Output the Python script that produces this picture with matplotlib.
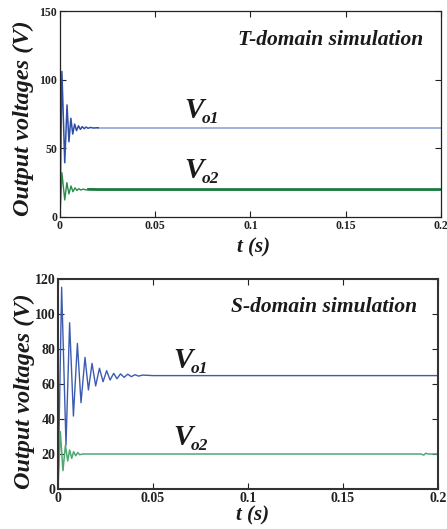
import matplotlib
matplotlib.use("Agg")
import matplotlib.pyplot as plt
import matplotlib.transforms as mtransforms
import numpy as np

plt.rcParams["font.family"] = ["Liberation Serif", "DejaVu Serif"]

# ---- T-domain simulation (upper panel) ----
t_top_vo1 = [0, 0.0010, 0.0025, 0.0037, 0.0047, 0.0057, 0.0067, 0.0077, 0.0087,
             0.0097, 0.0107, 0.0117, 0.0127, 0.0137, 0.0147, 0.0160, 0.0175, 0.0200, 0.2]
v_top_vo1 = [0, 106, 39.5, 81.6, 54.8, 71.9, 60.4, 67.7, 62.9,
             66.4, 63.8, 65.8, 64.3, 65.5, 64.6, 65.2, 64.8, 65, 65]

t_top_vo2 = [0, 0.0010, 0.0025, 0.0036, 0.0047, 0.0058, 0.0068, 0.0079, 0.0089,
             0.0099, 0.0110, 0.0120, 0.0135, 0.0150, 0.0200, 0.2]
v_top_vo2 = [0, 32.3, 12.4, 25, 16.8, 22.6, 18.4, 21.2, 19.3,
             20.6, 19.6, 20.3, 19.8, 20.1, 20, 20]

# ---- S-domain simulation (lower panel) ----
t_bot_vo1 = [0, 0.0019, 0.0042, 0.0061, 0.0081, 0.0102, 0.0121, 0.0142, 0.0160,
             0.0179, 0.0198, 0.0218, 0.0237, 0.0256, 0.0274, 0.0293, 0.0310,
             0.0329, 0.0348, 0.0367, 0.0386, 0.0405, 0.0424, 0.0445, 0.0500, 0.2]
v_bot_vo1 = [0, 115.3, 25.1, 95, 41.7, 83.2, 49.3, 75.2, 56.6,
             71.8, 58.9, 69, 61.3, 67.6, 62.3, 66.1, 63,
             65.8, 63.8, 65.6, 64.2, 65.3, 64.5, 65.1, 64.8, 64.8]

t_bot_vo2 = [0, 0.0012, 0.0026, 0.0039, 0.0051, 0.0061, 0.0072, 0.0082, 0.0093,
             0.0104, 0.0114, 0.0130, 0.1910, 0.1925, 0.1935, 0.1950, 0.2]
v_bot_vo2 = [0, 32.8, 10.5, 25.1, 16, 22.3, 17.5, 21.3, 19,
             20.8, 19.6, 20, 20, 19.4, 20.4, 20, 20]

x_ticks = [0, 0.05, 0.1, 0.15, 0.2]
x_tick_labels = ["0", "0.05", "0.1", "0.15", "0.2"]
y_ticks_top = [0, 50, 100, 150]
y_ticks_bot = [0, 20, 40, 60, 80, 100, 120]

fig = plt.figure(figsize=(4.47, 5.29), dpi=100)

ax1 = fig.add_axes([0.1342, 0.5898, 0.8523, 0.3894])
ax2 = fig.add_axes([0.1298, 0.0756, 0.8501, 0.3970])

# upper panel: transient in darker tones, steady tail drawn lighter/heavier
t1 = np.array(t_top_vo1); v1 = np.array(v_top_vo1)
m1 = t1 <= 0.0200
ax1.plot(t1[t1 >= 0.0200], v1[t1 >= 0.0200], color="#93a4d6", lw=1.2)
ax1.plot(t1[m1], v1[m1], color="#2f4fa6", lw=1.1)
t2 = np.array(t_top_vo2); v2 = np.array(v_top_vo2)
m2 = t2 <= 0.0150
ax1.plot(t2[t2 >= 0.0150], v2[t2 >= 0.0150], color="#1a7a3e", lw=2.0)
ax1.plot(t2[m2], v2[m2], color="#2a8a4a", lw=1.0)

ax2.plot(t_bot_vo1, v_bot_vo1, color="#3d5cb0", lw=1.0)
ax2.plot(t_bot_vo2, v_bot_vo2, color="#4fa872", lw=1.1)

def style(ax, yticks, ylim, tick_fs, spine_lw, spine_col):
    ax.set_xlim(0, 0.2)
    ax.set_ylim(*ylim)
    ax.set_xticks(x_ticks)
    ax.set_xticklabels(x_tick_labels)
    ax.set_yticks(yticks)
    ax.set_yticklabels([str(v) for v in yticks])
    ax.tick_params(direction="in", top=True, right=True, length=4,
                   width=0.8, labelsize=tick_fs, pad=2, colors="#222222")
    for lab in ax.get_xticklabels() + ax.get_yticklabels():
        lab.set_fontweight("bold")
    for s in ax.spines.values():
        s.set_linewidth(spine_lw)
        s.set_color(spine_col)

style(ax1, y_ticks_top, (0, 150), 8.5, 0.9, "#222222")
style(ax2, y_ticks_bot, (0, 120), 10, 1.5, "#333333")

lab_kw = dict(fontweight="bold", fontstyle="italic", color="#1a1a1a")

ax1.text(0.71, 0.859, "T-domain simulation", transform=ax1.transAxes,
         ha="center", va="center", fontsize=15.5, **lab_kw)
ax2.text(0.70, 0.869, "S-domain simulation", transform=ax2.transAxes,
         ha="center", va="center", fontsize=15.5, **lab_kw)


def series_label(ax, x, y, sub):
    """Big italic V with a smaller, lowered subscript, anchored at (x, y) baseline."""
    ax.text(x, y, "V", ha="right", va="baseline", fontsize=21, **lab_kw)
    off = mtransforms.offset_copy(ax.transData, fig=fig, x=-1.5, y=-3.5, units="points")
    ax.text(x, y, sub, ha="left", va="baseline", fontsize=12.5, transform=off, **lab_kw)


series_label(ax1, 0.0755, 72.1, "o1")
series_label(ax1, 0.0755, 28.4, "o2")
series_label(ax2, 0.0710, 69.1, "o1")
series_label(ax2, 0.0710, 25.1, "o2")

ax1.text(-0.095, 0.48, "Output voltages (V)", transform=ax1.transAxes, rotation=90,
         ha="center", va="center", fontsize=17.5, **lab_kw)
ax2.text(-0.088, 0.467, "Output voltages (V)", transform=ax2.transAxes, rotation=90,
         ha="center", va="center", fontsize=17.5, **lab_kw)

ax1.text(0.507, -0.146, "t (s)", transform=ax1.transAxes,
         ha="center", va="center", fontsize=15, **lab_kw)
ax2.text(0.513, -0.124, "t (s)", transform=ax2.transAxes,
         ha="center", va="center", fontsize=15, **lab_kw)

fig.savefig("out.png", dpi=100)
